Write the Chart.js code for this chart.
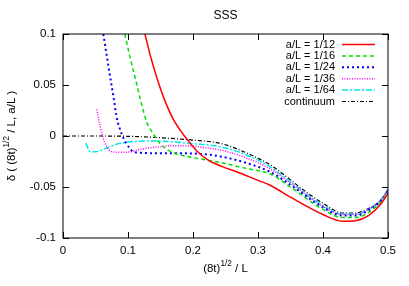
<!DOCTYPE html>
<html lang="en">
<head>
<meta charset="UTF-8">
<title>SSS</title>
<script src="https://cdn.jsdelivr.net/npm/chart.js"></script>
<style>
  body { margin: 0; background: #fff; }
  #wrap { width: 409px; height: 286px; }
</style>
</head>
<body>
<div id="wrap"><canvas id="sss-chart" width="409" height="286"></canvas></div>

<script>
// values
var xTicks = [0, 0.1, 0.2, 0.3, 0.4, 0.5];
var yTicks = [-0.1, -0.05, 0, 0.05, 0.1];
var labels = ['a/L = 1/12', 'a/L = 1/16', 'a/L = 1/24', 'a/L = 1/36', 'a/L = 1/64', 'continuum'];

var l12x = [0.126, 0.136, 0.147, 0.159, 0.170, 0.180, 0.187, 0.195, 0.208, 0.224, 0.245, 0.267, 0.300, 0.318, 0.350, 0.400, 0.430, 0.450, 0.470, 0.490, 0.500];
var l12y = [0.100, 0.075, 0.052, 0.031, 0.016, 0.006, 0.000, -0.0065, -0.016, -0.024, -0.030, -0.035, -0.0435, -0.048, -0.060, -0.077, -0.0835, -0.083, -0.078, -0.066, -0.056];

var l16x = [0.095, 0.104, 0.113, 0.121, 0.129, 0.139, 0.150, 0.165, 0.195, 0.221, 0.250, 0.272, 0.300, 0.318, 0.350, 0.400, 0.430, 0.450, 0.470, 0.490, 0.500];
var l16y = [0.100, 0.075, 0.052, 0.031, 0.0135, 0.002, -0.008, -0.015, -0.0205, -0.0235, -0.027, -0.0305, -0.034, -0.037, -0.050, -0.072, -0.080, -0.080, -0.075, -0.064, -0.055];

var l24x = [0.062, 0.067, 0.072, 0.078, 0.083, 0.088, 0.093, 0.097, 0.103, 0.108, 0.120, 0.150, 0.185, 0.220, 0.242, 0.280, 0.318, 0.350, 0.400, 0.430, 0.450, 0.470, 0.490, 0.500];
var l24y = [0.100, 0.080, 0.060, 0.037, 0.017, 0.006, -0.002, -0.007, -0.012, -0.0154, -0.0165, -0.017, -0.017, -0.018, -0.020, -0.026, -0.035, -0.048, -0.070, -0.078, -0.078, -0.073, -0.063, -0.054];

var l36x = [0.052, 0.056, 0.060, 0.064, 0.070, 0.075, 0.090, 0.103, 0.120, 0.149, 0.170, 0.200, 0.220, 0.242, 0.280, 0.318, 0.350, 0.400, 0.430, 0.450, 0.470, 0.490, 0.500];
var l36y = [0.026, 0.013, 0.002, -0.006, -0.013, -0.0154, -0.016, -0.0155, -0.013, -0.0105, -0.0095, -0.010, -0.0115, -0.0137, -0.021, -0.032, -0.046, -0.069, -0.077, -0.077, -0.072, -0.062, -0.053];

var l64x = [0.035, 0.042, 0.050, 0.070, 0.088, 0.120, 0.150, 0.165, 0.200, 0.242, 0.280, 0.318, 0.350, 0.400, 0.430, 0.450, 0.470, 0.490, 0.500];
var l64y = [-0.007, -0.0154, -0.0155, -0.011, -0.0072, -0.005, -0.0048, -0.0056, -0.0075, -0.0105, -0.018, -0.030, -0.045, -0.068, -0.0765, -0.0765, -0.072, -0.062, -0.052];

var contX = [0, 0.050, 0.100, 0.130, 0.165, 0.200, 0.242, 0.280, 0.318, 0.350, 0.370, 0.400, 0.430, 0.450, 0.470, 0.490, 0.500];
var contY = [0, 0, -0.0003, -0.001, -0.0023, -0.004, -0.0072, -0.016, -0.028, -0.043, -0.053, -0.066, -0.0755, -0.0755, -0.071, -0.062, -0.052];

function pts(xs, ys) {
    return xs.map(function(x, i){ return {x: x, y: ys[i]}; });
}

var FONT = '"Liberation Sans", Arial, sans-serif';

var datasets = [
    {label: labels[0], data: pts(l12x, l12y), borderColor: '#ff0000', borderWidth: 1.5, borderDash: []},
    {label: labels[1], data: pts(l16x, l16y), borderColor: '#00e000', borderWidth: 1.5, borderDash: [4, 3]},
    {label: labels[2], data: pts(l24x, l24y), borderColor: '#0000ff', borderWidth: 2, borderDash: [2, 3]},
    {label: labels[3], data: pts(l36x, l36y), borderColor: '#ff00ff', borderWidth: 1.5, borderDash: [1, 1.5]},
    {label: labels[4], data: pts(l64x, l64y), borderColor: '#00e8e8', borderWidth: 1.5, borderDash: [6, 2, 2, 2]},
    {label: labels[5], data: pts(contX, contY), borderColor: '#000000', borderWidth: 1.2, borderDash: [4, 2, 1, 2]}
];
datasets.forEach(function(d){
    d.fill = false;
    d.pointRadius = 0;
    d.cubicInterpolationMode = 'monotone';
    d.clip = 0;
});

// draw text with a raised "1/2"
function richWidth(ctx, parts, size) {
    var w = 0;
    parts.forEach(function(p){
        ctx.font = (p.sup ? size * 0.72 : size) + 'px ' + FONT;
        w += ctx.measureText(p.t).width;
    });
    return w;
}
function drawRich(ctx, parts, cx, cy, size) {
    var x = cx - richWidth(ctx, parts, size) / 2;
    ctx.textAlign = 'left';
    ctx.textBaseline = 'middle';
    parts.forEach(function(p){
        ctx.font = (p.sup ? size * 0.72 : size) + 'px ' + FONT;
        ctx.fillText(p.t, x, p.sup ? cy - size * 0.42 : cy);
        x += ctx.measureText(p.t).width;
    });
}

var gnuplotLook = {
    id: 'gnuplotLook',
    afterDraw: function(chart) {
        var ctx = chart.ctx, a = chart.chartArea;
        var xs = chart.scales.x, ys = chart.scales.y;
        ctx.save();
        ctx.strokeStyle = '#000';
        ctx.fillStyle = '#000';
        ctx.lineWidth = 1;
        ctx.setLineDash([]);
        // frame
        ctx.strokeRect(a.left, a.top, a.right - a.left, a.bottom - a.top);
        // inward ticks on all four sides
        ctx.beginPath();
        xTicks.forEach(function(v){
            var px = Math.round(xs.getPixelForValue(v)) + 0.5;
            ctx.moveTo(px, a.bottom); ctx.lineTo(px, a.bottom - 6);
            ctx.moveTo(px, a.top); ctx.lineTo(px, a.top + 6);
        });
        yTicks.forEach(function(v){
            var py = Math.round(ys.getPixelForValue(v)) + 0.5;
            ctx.moveTo(a.left, py); ctx.lineTo(a.left + 6, py);
            ctx.moveTo(a.right, py); ctx.lineTo(a.right - 6, py);
        });
        ctx.stroke();

        // title
        ctx.font = '12px ' + FONT;
        ctx.textAlign = 'center';
        ctx.textBaseline = 'middle';
        ctx.fillText('SSS', (a.left + a.right) / 2, 16);

        // x title
        drawRich(ctx, [{t: '(8t)'}, {t: '1/2', sup: true}, {t: ' / L'}], (a.left + a.right) / 2, 269, 11.5);

        // y title, rotated
        ctx.save();
        ctx.translate(12, (a.top + a.bottom) / 2);
        ctx.rotate(-Math.PI / 2);
        drawRich(ctx, [{t: 'δ ( (8t)'}, {t: '1/2', sup: true}, {t: ' / L, a/L )'}], 0, 0, 11.5);
        ctx.restore();

        // key, text right aligned with sample to the right
        chart.data.datasets.forEach(function(d, i){
            var y = 44.5 + i * 11.4;
            ctx.font = '11px ' + FONT;
            ctx.textAlign = 'right';
            ctx.textBaseline = 'middle';
            ctx.fillStyle = '#000';
            ctx.fillText(d.label, 335, y);
            ctx.beginPath();
            ctx.strokeStyle = d.borderColor;
            ctx.lineWidth = d.borderWidth;
            ctx.setLineDash(d.borderDash);
            ctx.moveTo(342, y);
            ctx.lineTo(375, y);
            ctx.stroke();
        });
        ctx.restore();
    }
};

var ctx = document.getElementById('sss-chart').getContext('2d');
var chart = new Chart(ctx, {
    type: 'line',
    data: { datasets: datasets },
    options: {
        responsive: false,
        animation: false,
        devicePixelRatio: 1,
        layout: { padding: { left: 0, right: 21, top: 34, bottom: 0 } },
        plugins: {
            legend: { display: false },
            title: { display: false },
            tooltip: { enabled: false }
        },
        scales: {
            x: {
                type: 'linear',
                min: 0,
                max: 0.5,
                afterBuildTicks: function(s){ s.ticks = xTicks.map(function(v){ return {value: v}; }); },
                afterFit: function(s){ s.height = 48; },
                grid: { display: false, drawTicks: false },
                border: { display: false },
                ticks: {
                    padding: 6,
                    color: '#000',
                    font: { family: FONT, size: 11.5 },
                    maxRotation: 0,
                    callback: function(v){ return String(v); }
                }
            },
            y: {
                type: 'linear',
                min: -0.1,
                max: 0.1,
                afterBuildTicks: function(s){ s.ticks = yTicks.map(function(v){ return {value: v}; }); },
                afterFit: function(s){ s.width = 63; },
                grid: { display: false, drawTicks: false },
                border: { display: false },
                ticks: {
                    padding: 7,
                    color: '#000',
                    font: { family: FONT, size: 11.5 },
                    callback: function(v){ return String(v); }
                }
            }
        }
    },
    plugins: [gnuplotLook]
});
</script>
</body>
</html>
